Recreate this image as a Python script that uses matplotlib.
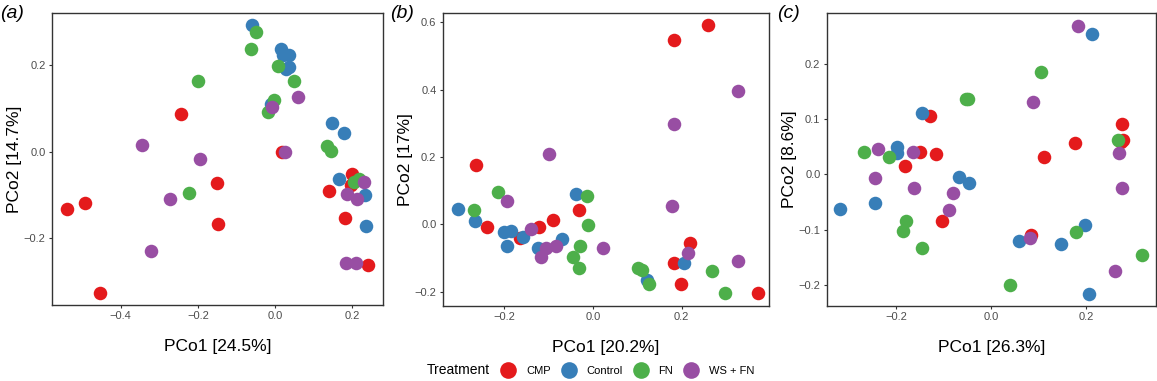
import matplotlib
matplotlib.use("Agg")
import matplotlib.pyplot as plt
from matplotlib.lines import Line2D

plt.rcParams['font.family'] = ['Liberation Sans', 'DejaVu Sans']

treatments = ["CMP", "Control", "FN", "WS + FN"]
colors = ["#E41A1C", "#377EB8", "#4DAF4A", "#984EA3"]

# Panel (a)
a_cmp_x = [-0.538, -0.493, -0.454, -0.243, -0.150, -0.148, 0.018, 0.139, 0.199, 0.197, 0.180, 0.241]
a_cmp_y = [-0.133, -0.119, -0.327, 0.086, -0.072, -0.168, 0.000, -0.090, -0.052, -0.077, -0.154, -0.262]
a_ctl_x = [-0.060, 0.014, 0.020, 0.035, 0.035, 0.028, -0.010, 0.147, 0.178, 0.164, 0.233, 0.235]
a_ctl_y = [0.292, 0.238, 0.223, 0.222, 0.196, 0.190, 0.110, 0.065, 0.042, -0.064, -0.101, -0.172]
a_fn_x = [-0.051, -0.063, -0.201, 0.008, 0.049, -0.004, -0.020, -0.224, 0.134, 0.145, 0.218, 0.205]
a_fn_y = [0.275, 0.236, 0.164, 0.198, 0.162, 0.119, 0.092, -0.095, 0.012, 0.002, -0.064, -0.070]
a_ws_x = [-0.346, -0.196, -0.272, -0.321, -0.008, 0.060, 0.026, 0.231, 0.186, 0.211, 0.184, 0.209]
a_ws_y = [0.015, -0.016, -0.109, -0.229, 0.102, 0.127, 0.000, -0.070, -0.098, -0.110, -0.258, -0.258]

# Panel (b)
b_cmp_x = [-0.264, -0.239, -0.165, -0.120, -0.089, -0.032, 0.182, 0.260, 0.219, 0.183, 0.199, 0.373]
b_cmp_y = [0.175, -0.007, -0.040, -0.007, 0.013, 0.043, 0.548, 0.591, -0.056, -0.116, -0.178, -0.205]
b_ctl_x = [-0.304, -0.265, -0.201, -0.184, -0.193, -0.156, -0.123, -0.070, -0.038, 0.122, 0.206, -0.115]
b_ctl_y = [0.046, 0.011, -0.024, -0.019, -0.064, -0.037, -0.071, -0.045, 0.090, -0.165, -0.116, -0.075]
b_fn_x = [-0.267, -0.213, -0.014, -0.011, -0.029, -0.045, -0.032, 0.101, 0.111, 0.126, 0.269, 0.299]
b_fn_y = [0.042, 0.096, 0.085, -0.003, -0.066, -0.096, -0.131, -0.129, -0.136, -0.178, -0.139, -0.205]
b_ws_x = [-0.193, -0.098, -0.139, -0.117, -0.106, -0.083, 0.023, 0.182, 0.178, 0.328, 0.327, 0.214]
b_ws_y = [0.070, 0.209, -0.013, -0.096, -0.071, -0.066, -0.069, 0.297, 0.055, 0.397, -0.108, -0.084]

# Panel (c)
c_cmp_x = [-0.130, -0.150, -0.116, -0.183, -0.105, 0.084, 0.175, 0.110, 0.276, 0.270, 0.278, 0.272]
c_cmp_y = [0.106, 0.040, 0.037, 0.016, -0.084, -0.109, 0.056, 0.031, 0.091, 0.060, 0.062, 0.058]
c_ctl_x = [-0.318, -0.245, -0.146, -0.199, -0.199, -0.068, -0.048, 0.058, 0.146, 0.197, 0.206, 0.211]
c_ctl_y = [-0.062, -0.051, 0.112, 0.050, 0.038, -0.005, -0.015, -0.121, -0.126, -0.091, -0.216, 0.254]
c_fn_x = [-0.269, -0.215, -0.181, -0.186, -0.146, -0.054, -0.049, 0.104, 0.178, 0.040, 0.317, 0.267]
c_fn_y = [0.040, 0.032, -0.085, -0.103, -0.133, 0.136, 0.137, 0.185, -0.105, -0.201, -0.146, 0.062]
c_ws_x = [-0.240, -0.245, -0.166, -0.164, -0.082, -0.089, 0.081, 0.088, 0.182, 0.269, 0.275, 0.261]
c_ws_y = [0.046, -0.007, 0.040, -0.025, -0.034, -0.065, -0.115, 0.132, 0.269, 0.039, -0.024, -0.175]

panels = [
    dict(label="(a)", xl="PCo1 [24.5%]", yl="PCo2 [14.7%]",
         data=[(a_cmp_x, a_cmp_y), (a_ctl_x, a_ctl_y), (a_fn_x, a_fn_y), (a_ws_x, a_ws_y)],
         xlim=(-0.578, 0.279), ylim=(-0.354, 0.320),
         xticks=[-0.4, -0.2, 0.0, 0.2], yticks=[-0.2, 0.0, 0.2],
         pos=[52, 13, 383, 305], lab_x=0),
    dict(label="(b)", xl="PCo1 [20.2%]", yl="PCo2 [17%]",
         data=[(b_cmp_x, b_cmp_y), (b_ctl_x, b_ctl_y), (b_fn_x, b_fn_y), (b_ws_x, b_ws_y)],
         xlim=(-0.338, 0.397), ylim=(-0.242, 0.629),
         xticks=[-0.2, 0.0, 0.2], yticks=[-0.2, 0.0, 0.2, 0.4, 0.6],
         pos=[442.7, 12.7, 769, 305.7], lab_x=390),
    dict(label="(c)", xl="PCo1 [26.3%]", yl="PCo2 [8.6%]",
         data=[(c_cmp_x, c_cmp_y), (c_ctl_x, c_ctl_y), (c_fn_x, c_fn_y), (c_ws_x, c_ws_y)],
         xlim=(-0.347, 0.347), ylim=(-0.238, 0.293),
         xticks=[-0.2, 0.0, 0.2], yticks=[-0.2, -0.1, 0.0, 0.1, 0.2],
         pos=[826.7, 12.7, 1156.2, 305.7], lab_x=777),
]

W, H = 1157, 381
fig = plt.figure(figsize=(W / 100, H / 100), dpi=100)

for p in panels:
    l, t, r, b = p["pos"]
    ax = fig.add_axes([l / W, 1 - b / H, (r - l) / W, (b - t) / H])
    for (xs, ys), col in zip(p["data"], colors):
        ax.scatter(xs, ys, s=95, color=col, linewidths=0, zorder=3)
    ax.set_xlim(*p["xlim"])
    ax.set_ylim(*p["ylim"])
    ax.set_xticks(p["xticks"])
    ax.set_yticks(p["yticks"])
    ax.set_xticklabels([f"{v:.1f}".replace("-", "\u2212") for v in p["xticks"]])
    ax.set_yticklabels([f"{v:.1f}".replace("-", "\u2212") for v in p["yticks"]])
    ax.tick_params(length=2.5, width=0.8, color="#333333", labelcolor="#4D4D4D",
                   labelsize=8, pad=2)
    for sp in ax.spines.values():
        sp.set_linewidth(1.0)
        sp.set_color("#333333")
    ax.set_xlabel(p["xl"], fontsize=12.5, labelpad=13)
    ax.set_ylabel(p["yl"], fontsize=12.5, labelpad=1)
    fig.text(p["lab_x"] / W, 1 - 13 / H, p["label"], fontsize=14, style="italic",
             ha="left", va="center")

# legend
fig.text(427 / W, 1 - 370.5 / H, "Treatment", fontsize=10, ha="left", va="center")
handles = [Line2D([], [], marker="o", linestyle="none", markersize=12, color=c,
                  markeredgewidth=0) for c in colors]
fig.legend(handles, treatments, loc="center left", bbox_to_anchor=(499.5 / W, 1 - 370.5 / H),
           ncol=4, frameon=False, fontsize=8, handletextpad=0.85, columnspacing=0.85,
           handlelength=1.53, borderaxespad=0, borderpad=0)

fig.savefig("out.png", dpi=100)
